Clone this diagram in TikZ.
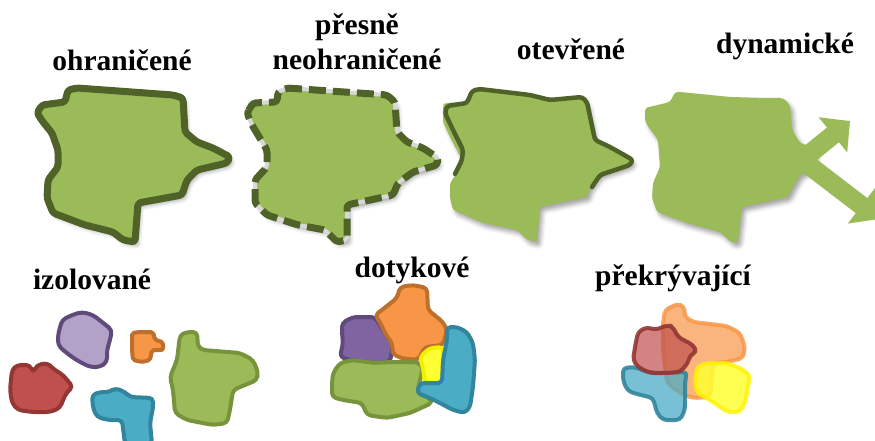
\documentclass[tikz,border=0pt]{standalone}
\usepackage{fontspec}
\setmainfont{Liberation Serif}
\usetikzlibrary{shadows.blur,arrows.meta}

\definecolor{land}{HTML}{9BBB59}
\definecolor{landline}{HTML}{4F6228}
\definecolor{landedge}{HTML}{77933C}
\definecolor{lilac}{HTML}{B3A2C7}
\definecolor{violet}{HTML}{8064A2}
\definecolor{violetedge}{HTML}{604A7B}
\definecolor{amber}{HTML}{F79646}
\definecolor{amberedge}{HTML}{BF6F2C}
\definecolor{brick}{HTML}{C0504D}
\definecolor{brickedge}{HTML}{943634}
\definecolor{aqua}{HTML}{4BACC6}
\definecolor{aquaedge}{HTML}{31859C}
\definecolor{lemon}{HTML}{FFFF33}
\definecolor{lemonedge}{HTML}{F0F000}
\definecolor{gapgrey}{HTML}{D8D8D8}

\tikzset{
  caption/.style={font=\bfseries\fontsize{29.5}{32}\selectfont, anchor=base,
    inner sep=0pt, align=center},
  softshadow/.style={blur shadow={shadow xshift=3pt, shadow yshift=-4pt,
    shadow blur radius=4pt, shadow opacity=35}},
  region/.style={fill=land, rounded corners=3pt, line join=round},
  blob/.style={line width=4pt, line join=round, rounded corners=4pt},
  arrowshaft/.style={draw=land, line width=19pt,
    -{Triangle[width=44pt,length=22pt]}},
}

\begin{document}
\begin{tikzpicture}[x=1pt,y=-1pt]
\useasboundingbox (0,0) rectangle (875,441);

% ---------- captions ----------
\node[caption] (t1) at (122,71) {ohraničené};
\node[caption] (t2a) at (357,35) {přesně};
\node[caption] (t2b) at (357,70) {neohraničené};
\node[caption] (t3) at (571,60) {otevřené};
\node[caption] (t4) at (785,54) {dynamické};
\node[caption] (t5) at (92,289) {izolované};
\node[caption] (t6) at (412,277) {dotykové};
\node[caption] (t7) at (673,285) {překrývající};

% ---------- bounded region ----------
\path[region, softshadow, draw=landline, line width=7pt]
  (37,113) -- (42,105) -- (65,102) -- (68,90) -- (77,88) -- (173,95)
  -- (183,98) -- (185,132) -- (197,142) -- (213,148) -- (230,157)
  -- (227,163) -- (197,170) -- (187,180) -- (182,195) -- (138,203)
  -- (135,242) -- (123,240) -- (113,232) -- (85,225) -- (53,213)
  -- (47,198) -- (48,180) -- (58,167) -- (58,150) -- (52,133)
  -- (43,122) -- cycle;

% ---------- fuzzy-bounded region ----------
\path[region, softshadow]
  (247,113) -- (253,103) -- (277,102) -- (278,92) -- (287,88) -- (387,95)
  -- (395,102) -- (397,132) -- (407,142) -- (423,148) -- (438,158)
  -- (437,165) -- (413,172) -- (398,183) -- (393,195) -- (347,205)
  -- (347,240) -- (337,242) -- (325,230) -- (298,225) -- (267,215)
  -- (255,203) -- (255,180) -- (267,167) -- (267,150) -- (258,135)
  -- (252,125) -- cycle;
\draw[draw=gapgrey, line width=4pt, rounded corners=3pt, line join=round]
  (247,113) -- (253,103) -- (277,102) -- (278,92) -- (287,88) -- (387,95)
  -- (395,102) -- (397,132) -- (407,142) -- (423,148) -- (438,158)
  -- (437,165) -- (413,172) -- (398,183) -- (393,195) -- (347,205)
  -- (347,240) -- (337,242) -- (325,230) -- (298,225) -- (267,215)
  -- (255,203) -- (255,180) -- (267,167) -- (267,150) -- (258,135)
  -- (252,125) -- cycle;
\draw[draw=landline, line width=7pt, dash pattern=on 17pt off 7pt,
  rounded corners=3pt, line join=round]
  (247,113) -- (253,103) -- (277,102) -- (278,92) -- (287,88) -- (387,95)
  -- (395,102) -- (397,132) -- (407,142) -- (423,148) -- (438,158)
  -- (437,165) -- (413,172) -- (398,183) -- (393,195) -- (347,205)
  -- (347,240) -- (337,242) -- (325,230) -- (298,225) -- (267,215)
  -- (255,203) -- (255,180) -- (267,167) -- (267,150) -- (258,135)
  -- (252,125) -- cycle;

% ---------- open region ----------
\path[region, softshadow]
  (443,105) -- (445,103) -- (468,102) -- (472,90) -- (478,88) -- (530,95)
  -- (550,100) -- (582,97) -- (587,102) -- (595,140) -- (610,147)
  -- (633,160) -- (630,165) -- (600,175) -- (590,188) -- (587,197)
  -- (540,207) -- (537,242) -- (527,240) -- (517,230) -- (483,223)
  -- (453,210) -- (450,198) -- (450,183) -- (457,173) -- (462,160)
  -- (450,137) -- (443,122) -- cycle;
\draw[draw=landline, line width=4.5pt, rounded corners=3pt,
  line join=round, line cap=round]
  (455,174) -- (462,160) -- (463,150) -- (453,130) -- (445,113)
  -- (447,106) -- (467,103) -- (472,91) -- (479,89) -- (530,95)
  -- (550,100) -- (582,97) -- (587,102) -- (595,140) -- (610,147)
  -- (633,160) -- (630,165) -- (600,175) -- (592,187);

% ---------- dynamic region ----------
\path[region, softshadow]
  (645,108) -- (670,102) -- (675,92) -- (680,92) -- (730,97) -- (767,98)
  -- (783,98) -- (790,105) -- (792,130) -- (800,143) -- (815,148)
  -- (815,168) -- (800,175) -- (793,187) -- (788,197) -- (742,207)
  -- (738,242) -- (732,243) -- (720,232) -- (687,223) -- (657,212)
  -- (652,198) -- (653,183) -- (660,167) -- (658,140) -- (647,125)
  -- (645,120) -- cycle;
\coordinate (pushout) at (802,160);
\coordinate (tipup) at (850,121);
\coordinate (tipdown) at (879,219);
\draw[arrowshaft] (pushout) -- (tipup);
\draw[arrowshaft] (pushout) -- (tipdown);

% ---------- isolated regions ----------
\path[blob, fill=lilac, draw=violetedge]
  (58,335) -- (62,320) -- (72,315) -- (82,312) -- (93,315) -- (102,322)
  -- (112,330) -- (110,340) -- (107,350) -- (107,362) -- (100,367)
  -- (90,367) -- (80,362) -- (72,357) -- (63,350) -- (58,345) -- cycle;
\path[blob, fill=amber, draw=amberedge, rounded corners=2pt]
  (132,333) -- (140,332) -- (153,332) -- (155,340) -- (163,342)
  -- (163,350) -- (152,350) -- (150,360) -- (142,362) -- (133,360)
  -- (132,350) -- cycle;
\path[blob, fill=brick, draw=brickedge]
  (12,370) -- (17,365) -- (30,365) -- (33,373) -- (37,365) -- (48,363)
  -- (52,368) -- (63,375) -- (73,387) -- (67,392) -- (63,400) -- (60,408)
  -- (50,412) -- (32,412) -- (18,410) -- (12,403) -- (10,390) -- cycle;
\path[blob, fill=aqua, draw=aquaedge]
  (92,395) -- (100,392) -- (110,392) -- (115,388) -- (125,392)
  -- (130,397) -- (153,398) -- (153,408) -- (150,423) -- (152,444)
  -- (125,444) -- (122,420) -- (108,420) -- (97,417) -- (93,408) -- cycle;
\path[blob, fill=land, draw=landedge]
  (180,335) -- (187,332) -- (197,332) -- (198,347) -- (203,350)
  -- (240,353) -- (253,360) -- (258,372) -- (257,380) -- (233,390)
  -- (230,410) -- (227,423) -- (213,425) -- (187,420) -- (175,413)
  -- (173,390) -- (170,377) -- (177,360) -- cycle;

% ---------- touching regions ----------
\path[blob, fill=violet, draw=violetedge]
  (342,323) -- (353,317) -- (375,317) -- (378,322) -- (385,333)
  -- (393,345) -- (390,362) -- (375,363) -- (350,360) -- (340,357)
  -- (343,343) -- (342,333) -- cycle;
\path[blob, fill=amber, draw=amberedge]
  (382,310) -- (397,298) -- (400,287) -- (413,285) -- (427,288)
  -- (428,310) -- (443,322) -- (447,330) -- (443,345) -- (425,347)
  -- (418,360) -- (400,358) -- (392,353) -- (393,345) -- (385,333)
  -- (380,322) -- (375,315) -- cycle;
\path[blob, fill=land, draw=landedge]
  (333,373) -- (340,363) -- (352,360) -- (375,363) -- (390,362)
  -- (418,362) -- (423,368) -- (417,393) -- (430,398) -- (432,403)
  -- (410,413) -- (387,418) -- (367,415) -- (362,403) -- (343,400)
  -- (332,397) -- (332,383) -- cycle;
\path[blob, fill=lemon, draw=lemonedge]
  (420,357) -- (430,348) -- (443,347) -- (443,360) -- (442,383)
  -- (425,383) -- (423,368) -- cycle;
\path[blob, fill=aqua, draw=aquaedge]
  (447,327) -- (457,327) -- (467,332) -- (473,343) -- (475,360)
  -- (473,387) -- (470,407) -- (465,413) -- (453,410) -- (440,403)
  -- (430,398) -- (417,393) -- (420,383) -- (442,383) -- (443,360)
  -- (447,340) -- cycle;

% ---------- overlapping regions ----------
\path[blob, fill=amber, fill opacity=0.7, draw=amber, draw opacity=0.85]
  (665,310) -- (677,304) -- (684,306) -- (685,317) -- (693,322)
  -- (727,326) -- (740,333) -- (745,347) -- (743,358) -- (727,362)
  -- (713,363) -- (712,377) -- (710,397) -- (693,398) -- (680,393)
  -- (667,383) -- (663,350) -- (663,323) -- cycle;
\path[blob, fill=lemon, fill opacity=0.85, draw=yellow, draw opacity=0.8]
  (697,367) -- (707,363) -- (727,363) -- (740,368) -- (750,375)
  -- (748,387) -- (745,403) -- (740,412) -- (727,412) -- (713,402)
  -- (705,397) -- (697,393) -- (695,380) -- cycle;
\path[blob, fill=aqua, fill opacity=0.75, draw=aquaedge, draw opacity=0.9]
  (623,368) -- (635,367) -- (647,372) -- (660,373) -- (687,372)
  -- (685,382) -- (685,410) -- (680,420) -- (663,420) -- (657,413)
  -- (653,398) -- (633,393) -- (627,390) -- (623,380) -- cycle;
\path[blob, fill=brick, fill opacity=0.7, draw=brickedge, draw opacity=0.9]
  (638,332) -- (647,327) -- (655,330) -- (668,325) -- (673,327)
  -- (678,337) -- (693,345) -- (697,352) -- (690,355) -- (688,363)
  -- (680,372) -- (667,373) -- (650,373) -- (638,367) -- (633,360)
  -- (635,347) -- cycle;
\end{tikzpicture}
\end{document}
